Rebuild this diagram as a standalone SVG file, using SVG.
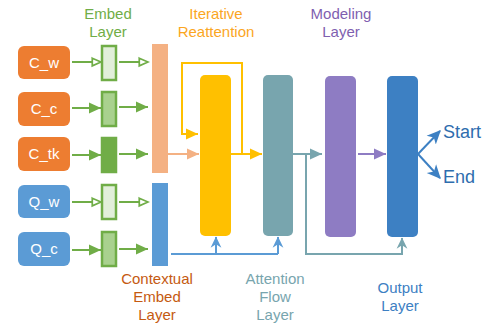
<svg xmlns="http://www.w3.org/2000/svg" width="484" height="326" viewBox="0 0 484 326">
<defs>
<style>
text{font-family:"Liberation Sans",Arial,sans-serif;font-size:15px;text-anchor:middle}
.nt{fill:#fff}
.ln{fill:none;stroke-width:2}
.g{stroke:#70AD47}
</style>
<marker id="gOpen" markerUnits="userSpaceOnUse" markerWidth="12" markerHeight="12" refX="9" refY="5" orient="auto" viewBox="0 0 11 10"><path d="M1,1.5 L9,5 L1,8.5 Z" fill="#fff" stroke="#70AD47" stroke-width="1.6"/></marker>
<marker id="gFill" markerUnits="userSpaceOnUse" markerWidth="12" markerHeight="12" refX="10" refY="5" orient="auto" viewBox="0 0 10 10"><path d="M0,0.5 L10,5 L0,9.5 Z" fill="#70AD47"/></marker>
<marker id="oFill" markerUnits="userSpaceOnUse" markerWidth="12" markerHeight="12" refX="10" refY="5" orient="auto" viewBox="0 0 10 10"><path d="M0,0.5 L10,5 L0,9.5 Z" fill="#F4B183"/></marker>
<marker id="yFill" markerUnits="userSpaceOnUse" markerWidth="12" markerHeight="12" refX="10" refY="5" orient="auto" viewBox="0 0 10 10"><path d="M0,0.5 L10,5 L0,9.5 Z" fill="#FFC000"/></marker>
<marker id="tFill" markerUnits="userSpaceOnUse" markerWidth="12" markerHeight="12" refX="10" refY="5" orient="auto" viewBox="0 0 10 10"><path d="M0,0.5 L10,5 L0,9.5 Z" fill="#78A5AE"/></marker>
<marker id="pFill" markerUnits="userSpaceOnUse" markerWidth="12" markerHeight="12" refX="10" refY="5" orient="auto" viewBox="0 0 10 10"><path d="M0,0.5 L10,5 L0,9.5 Z" fill="#8E7CC3"/></marker>
<marker id="bArr" markerUnits="userSpaceOnUse" markerWidth="12" markerHeight="12" refX="9" refY="5" orient="auto" viewBox="0 0 10 10"><path d="M0,0.5 L9.5,5 L0,9.5 L3,5 Z" fill="#5B9BD5"/></marker>
<marker id="tArr" markerUnits="userSpaceOnUse" markerWidth="12" markerHeight="12" refX="9" refY="5" orient="auto" viewBox="0 0 10 10"><path d="M0,0.5 L9.5,5 L0,9.5 L3,5 Z" fill="#78A5AE"/></marker>
<marker id="dArr" markerUnits="userSpaceOnUse" markerWidth="14" markerHeight="14" refX="10" refY="5" orient="auto" viewBox="0 0 11 10"><path d="M0,0 L11,5 L0,10 L3,5 Z" fill="#3D80C3"/></marker>
</defs>
<rect width="484" height="326" fill="#fff"/>

<g id="labels">
<text x="108" y="19" fill="#70AD47">Embed</text>
<text x="108" y="37" fill="#70AD47">Layer</text>
<text x="216" y="19" fill="#FBA61F">Iterative</text>
<text x="216" y="37" fill="#FBA61F">Reattention</text>
<text x="341" y="19" fill="#7F5FB0">Modeling</text>
<text x="341" y="37" fill="#7F5FB0">Layer</text>
<text x="157" y="284" fill="#C55A11">Contextual</text>
<text x="157" y="302" fill="#C55A11">Embed</text>
<text x="157" y="320" fill="#C55A11">Layer</text>
<text x="275" y="284" fill="#78A5AE">Attention</text>
<text x="275" y="302" fill="#78A5AE">Flow</text>
<text x="275" y="320" fill="#78A5AE">Layer</text>
<text x="400" y="293" fill="#3D80C3">Output</text>
<text x="400" y="311" fill="#3D80C3">Layer</text>
</g>

<g id="C_w"><rect x="18" y="46" width="52" height="33" rx="6" fill="#ED7D31"/><text class="nt" x="44" y="68">C_w</text></g>
<g id="C_c"><rect x="18" y="92" width="52" height="34" rx="6" fill="#ED7D31"/><text class="nt" x="44" y="114">C_c</text></g>
<g id="C_tk"><rect x="18" y="137" width="52" height="34" rx="6" fill="#ED7D31"/><text class="nt" x="44" y="159">C_tk</text></g>
<g id="Q_w"><rect x="18" y="185" width="52" height="33" rx="6" fill="#5B9BD5"/><text class="nt" x="44" y="207">Q_w</text></g>
<g id="Q_c"><rect x="18" y="232" width="52" height="34" rx="6" fill="#5B9BD5"/><text class="nt" x="44" y="254">Q_c</text></g>

<g id="embed_w"><rect x="102" y="46" width="14" height="34" fill="#E2EFDA" stroke="#70AD47" stroke-width="2.5"/></g>
<g id="embed_c"><rect x="102" y="92" width="14" height="34" fill="#A9D18E" stroke="#70AD47" stroke-width="2.5"/></g>
<g id="embed_tk"><rect x="102" y="138" width="14" height="34" fill="#70AD47" stroke="#70AD47" stroke-width="2.5"/></g>
<g id="embed_qw"><rect x="102" y="185" width="14" height="34" fill="#E2EFDA" stroke="#70AD47" stroke-width="2.5"/></g>
<g id="embed_qc"><rect x="102" y="232" width="14" height="34" fill="#A9D18E" stroke="#70AD47" stroke-width="2.5"/></g>

<g id="context_c"><rect x="152" y="44" width="16" height="129" fill="#F4B183"/></g>
<g id="context_q"><rect x="152" y="183" width="16" height="83" fill="#5B9BD5"/></g>
<g id="reattention"><rect x="200" y="75" width="31" height="161" rx="5" fill="#FFC000"/></g>
<g id="attention_flow"><rect x="263" y="75" width="30" height="161" rx="5" fill="#78A5AE"/></g>
<g id="modeling"><rect x="325" y="76" width="31" height="161" rx="5" fill="#8E7CC3"/></g>
<g id="output"><rect x="387" y="76" width="31" height="161" rx="5" fill="#3D80C3"/></g>

<g id="outputs">
<text x="443" y="138" fill="#2E6DAE" style="font-size:18px;text-anchor:start">Start</text>
<text x="443" y="183" fill="#2E6DAE" style="font-size:18px;text-anchor:start">End</text>
</g>

<g id="connectors">
<line class="ln g" x1="72" y1="62" x2="101" y2="62" marker-end="url(#gOpen)"/>
<line class="ln g" x1="119" y1="62" x2="148" y2="62" marker-end="url(#gOpen)"/>
<line class="ln g" x1="72" y1="108" x2="101" y2="108" marker-end="url(#gFill)"/>
<line class="ln g" x1="119" y1="107" x2="148" y2="107" marker-end="url(#gFill)"/>
<line class="ln g" x1="72" y1="155" x2="101" y2="155" marker-end="url(#gFill)"/>
<line class="ln g" x1="119" y1="154" x2="148" y2="154" marker-end="url(#gFill)"/>
<line class="ln g" x1="72" y1="202" x2="101" y2="202" marker-end="url(#gOpen)"/>
<line class="ln g" x1="119" y1="202" x2="148" y2="202" marker-end="url(#gOpen)"/>
<line class="ln g" x1="72" y1="250" x2="101" y2="250" marker-end="url(#gFill)"/>
<line class="ln g" x1="119" y1="249" x2="148" y2="249" marker-end="url(#gFill)"/>

<line class="ln" stroke="#F4B183" x1="168" y1="154" x2="199" y2="154" marker-end="url(#oFill)"/>
<line class="ln" stroke="#FFC000" x1="231" y1="154" x2="262" y2="154" marker-end="url(#yFill)"/>
<path class="ln" stroke="#FFC000" d="M242,154 V63 H182 V134 H198" marker-end="url(#yFill)"/>
<line class="ln" stroke="#78A5AE" x1="293" y1="154" x2="322" y2="154" marker-end="url(#tFill)"/>
<path class="ln" stroke="#78A5AE" d="M306,154 V254 H402 V238" marker-end="url(#tArr)"/>
<line class="ln" stroke="#8E7CC3" x1="358" y1="154" x2="386" y2="154" marker-end="url(#pFill)"/>
<path class="ln" stroke="#5B9BD5" d="M171,254 H278"/>
<line class="ln" stroke="#5B9BD5" x1="216" y1="254" x2="216" y2="237" marker-end="url(#bArr)"/>
<line class="ln" stroke="#5B9BD5" x1="278" y1="254" x2="278" y2="237" marker-end="url(#bArr)"/>
<line class="ln" stroke="#3D80C3" stroke-width="2.5" x1="418" y1="154" x2="440" y2="131" marker-end="url(#dArr)"/>
<line class="ln" stroke="#3D80C3" stroke-width="2.5" x1="418" y1="154" x2="440" y2="178" marker-end="url(#dArr)"/>
</g>
</svg>
